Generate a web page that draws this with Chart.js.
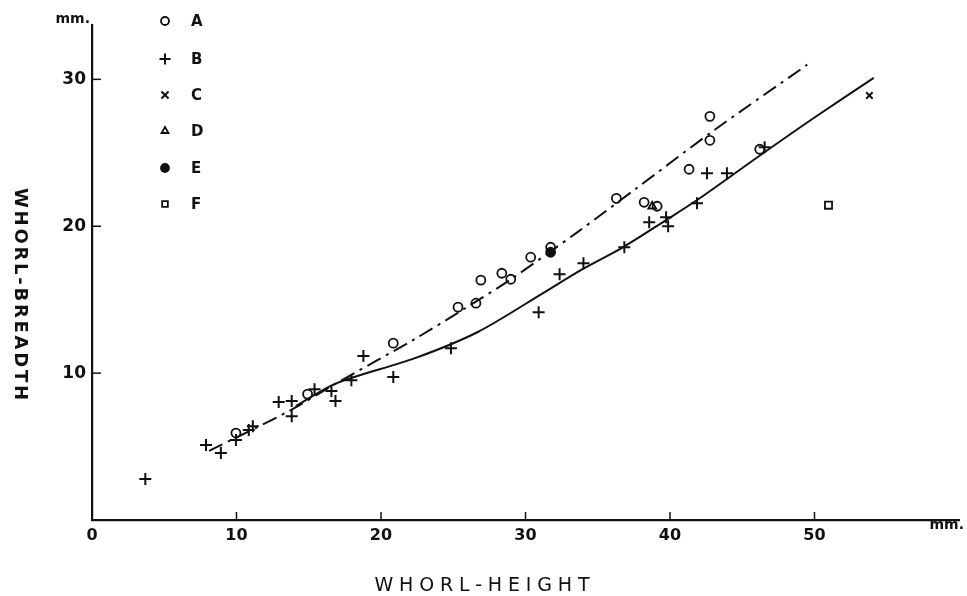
<!DOCTYPE html>
<html>
<head>
<meta charset="utf-8">
<title>Whorl-breadth vs whorl-height</title>
<script src="https://cdn.jsdelivr.net/npm/chart.js@4.4.0/dist/chart.umd.min.js"></script>
<style>
    html, body { margin: 0; padding: 0; background: #fff; }
    #wrap { position: relative; width: 967px; height: 596px; }
</style>
</head>
<body>
<div id="wrap"><canvas id="chart"></canvas></div>
<script>
// series A..F (whorl-height, whorl-breadth in mm)
const aX = [9.96, 14.92, 20.85, 25.33, 26.57, 26.91, 28.36, 28.98, 30.36, 31.74, 36.29, 38.21, 39.11, 41.32, 42.76, 42.76, 46.21];
const aY = [5.92, 8.57, 12.04, 14.49, 14.76, 16.33, 16.80, 16.39, 17.89, 18.57, 21.90, 21.63, 21.36, 23.88, 27.48, 25.85, 25.24];

const bX = [3.69, 7.89, 8.92, 9.96, 10.85, 11.13, 12.92, 13.82, 13.82, 15.40, 16.57, 16.85, 17.95, 18.78, 20.85, 24.84, 30.91, 32.36, 34.01, 36.84, 38.56, 39.73, 39.87, 41.87, 42.56, 43.94, 46.55];
const bY = [2.79, 5.10, 4.56, 5.44, 6.12, 6.39, 8.03, 8.10, 7.07, 8.91, 8.78, 8.10, 9.52, 11.16, 9.73, 11.70, 14.15, 16.73, 17.48, 18.57, 20.27, 20.61, 20.00, 21.56, 23.61, 23.61, 25.37];

const cX = [53.8];
const cY = [28.9];
const dX = [38.77];
const dY = [21.36];
const eX = [31.74];
const eY = [18.23];
const fX = [50.97];
const fY = [21.43];

// fitted curves
const solidX = [14.1, 16.9, 22.3, 26.7, 31.3, 33.8, 36.8, 39.7, 41.9, 46.2, 50.0, 54.1];
const solidY = [7.75, 9.3, 11.0, 12.8, 15.5, 17.0, 18.6, 20.4, 21.8, 24.8, 27.4, 30.1];
const dashX = [8.1, 13.6, 16.9, 22.3, 25.8, 29.0, 33.6, 37.7, 43.0, 49.5];
const dashY = [4.7, 7.4, 9.3, 12.3, 14.4, 16.4, 19.6, 22.6, 26.5, 31.0];

const xTicks = [0, 10, 20, 30, 40, 50];
const yTicks = [10, 20, 30];
const legendLabels = ['A', 'B', 'C', 'D', 'E', 'F'];
const xTitle = 'WHORL-HEIGHT';
const yTitle = 'WHORL-BREADTH';
const unitLabel = 'mm.';

const INK = '#111';

const toPoints = (xs, ys) => xs.map((x, i) => ({ x: x, y: ys[i] }));

const markerStyles = [
    { pointStyle: 'circle', radius: 4.5, fill: false, borderWidth: 1.8 },
    { pointStyle: 'cross', radius: 6, fill: false, borderWidth: 2 },
    { pointStyle: 'crossRot', radius: 4.5, fill: false, borderWidth: 2 },
    { pointStyle: 'triangle', radius: 4.5, fill: false, borderWidth: 1.8 },
    { pointStyle: 'circle', radius: 4.5, fill: true, borderWidth: 1.8 },
    { pointStyle: 'rect', radius: 5, fill: false, borderWidth: 1.8 }
];
const seriesX = [aX, bX, cX, dX, eX, fX];
const seriesY = [aY, bY, cY, dY, eY, fY];

const markerSets = legendLabels.map((label, i) => {
    const m = markerStyles[i];
    return {
        label: label,
        data: toPoints(seriesX[i], seriesY[i]),
        showLine: false,
        pointStyle: m.pointStyle,
        pointRadius: m.radius,
        pointBorderWidth: m.borderWidth,
        pointBorderColor: INK,
        pointBackgroundColor: m.fill ? INK : 'rgba(0,0,0,0)',
        order: 1
    };
});

const lineSets = [
    {
        label: 'solid',
        data: toPoints(solidX, solidY),
        showLine: true,
        pointRadius: 0,
        borderColor: INK,
        borderWidth: 2,
        tension: 0.3,
        order: 2
    },
    {
        label: 'dashdot',
        data: toPoints(dashX, dashY),
        showLine: true,
        pointRadius: 0,
        borderColor: INK,
        borderWidth: 2,
        borderDash: [15, 6, 3, 6],
        tension: 0.3,
        order: 2
    }
];

// ticks inside the axes, titles, unit labels and the symbol key
const decorations = {
    id: 'decorations',
    afterDraw(chart) {
        const ctx = chart.ctx;
        const xs = chart.scales.x;
        const ys = chart.scales.y;
        const area = chart.chartArea;
        ctx.save();
        ctx.strokeStyle = INK;
        ctx.fillStyle = INK;
        ctx.lineWidth = 1.5;

        // inward tick marks
        xTicks.slice(1).forEach(v => {
            const px = xs.getPixelForValue(v);
            ctx.beginPath();
            ctx.moveTo(px, area.bottom);
            ctx.lineTo(px, area.bottom - 8);
            ctx.stroke();
        });
        yTicks.forEach(v => {
            const py = ys.getPixelForValue(v);
            ctx.beginPath();
            ctx.moveTo(area.left, py);
            ctx.lineTo(area.left + 9, py);
            ctx.stroke();
        });

        // unit labels
        ctx.font = 'bold 14px "DejaVu Sans"';
        ctx.textBaseline = 'alphabetic';
        ctx.textAlign = 'right';
        ctx.fillText(unitLabel, area.left - 2, area.top - 2);
        ctx.fillText(unitLabel, area.right + 5, area.bottom + 9);

        // axis titles
        ctx.font = '19px "DejaVu Sans"';
        ctx.textAlign = 'center';
        ctx.textBaseline = 'middle';
        const plainW = ctx.measureText(xTitle).width;
        ctx.letterSpacing = Math.max(0, (215 - plainW) / (xTitle.length - 1)) + 'px';
        ctx.fillText(xTitle, 482 + parseFloat(ctx.letterSpacing) / 2, 586);

        ctx.font = 'bold 18px "DejaVu Sans"';
        ctx.letterSpacing = '0px';
        const yW = ctx.measureText(yTitle).width;
        ctx.letterSpacing = Math.max(0, (212 - yW) / (yTitle.length - 1)) + 'px';
        ctx.translate(20, 294);
        ctx.rotate(Math.PI / 2);
        ctx.fillText(yTitle, parseFloat(ctx.letterSpacing) / 2, 0);
        ctx.restore();

        // key
        ctx.save();
        ctx.strokeStyle = INK;
        ctx.fillStyle = INK;
        const keyY = [21, 59, 95, 131, 168, 204];
        legendLabels.forEach((label, i) => {
            const m = markerStyles[i];
            ctx.lineWidth = m.borderWidth;
            ctx.fillStyle = m.fill ? INK : 'rgba(0,0,0,0)';
            Chart.helpers.drawPoint(ctx, {
                pointStyle: m.pointStyle,
                radius: m.pointStyle === 'cross' ? 5.5 : (m.pointStyle === 'crossRot' ? 5 : 4),
                rotation: 0,
                borderWidth: m.borderWidth
            }, 165, keyY[i]);
            ctx.fillStyle = INK;
            ctx.font = 'bold 15px "DejaVu Sans"';
            ctx.textAlign = 'left';
            ctx.textBaseline = 'middle';
            ctx.fillText(label, 191, keyY[i] + 1);
        });
        ctx.restore();
    }
};

const chart = new Chart(document.getElementById('chart'), {
    type: 'scatter',
    data: { datasets: lineSets.concat(markerSets) },
    options: {
        responsive: true,
        maintainAspectRatio: false,
        animation: false,
        layout: { padding: { top: 25, right: 4, left: 0, bottom: 0 } },
        plugins: {
            legend: { display: false },
            tooltip: { enabled: false }
        },
        scales: {
            x: {
                type: 'linear',
                min: 0,
                max: 60,
                afterBuildTicks: (scale) => { scale.ticks = xTicks.map(v => ({ value: v })); },
                afterFit: (scale) => { scale.height = 76; },
                ticks: { color: INK, font: { family: 'DejaVu Sans', size: 16, weight: 'bold' }, padding: 6, maxRotation: 0 },
                grid: { display: false, drawTicks: false },
                border: { display: true, color: INK, width: 2.2 }
            },
            y: {
                type: 'linear',
                min: 0,
                max: 33.7,
                afterBuildTicks: (scale) => { scale.ticks = yTicks.map(v => ({ value: v })); },
                afterFit: (scale) => { scale.width = 92; },
                ticks: { color: INK, font: { family: 'DejaVu Sans', size: 17, weight: 'bold' }, padding: 6 },
                grid: { display: false, drawTicks: false },
                border: { display: true, color: INK, width: 2.2 }
            }
        }
    },
    plugins: [decorations]
});
</script>
</body>
</html>
